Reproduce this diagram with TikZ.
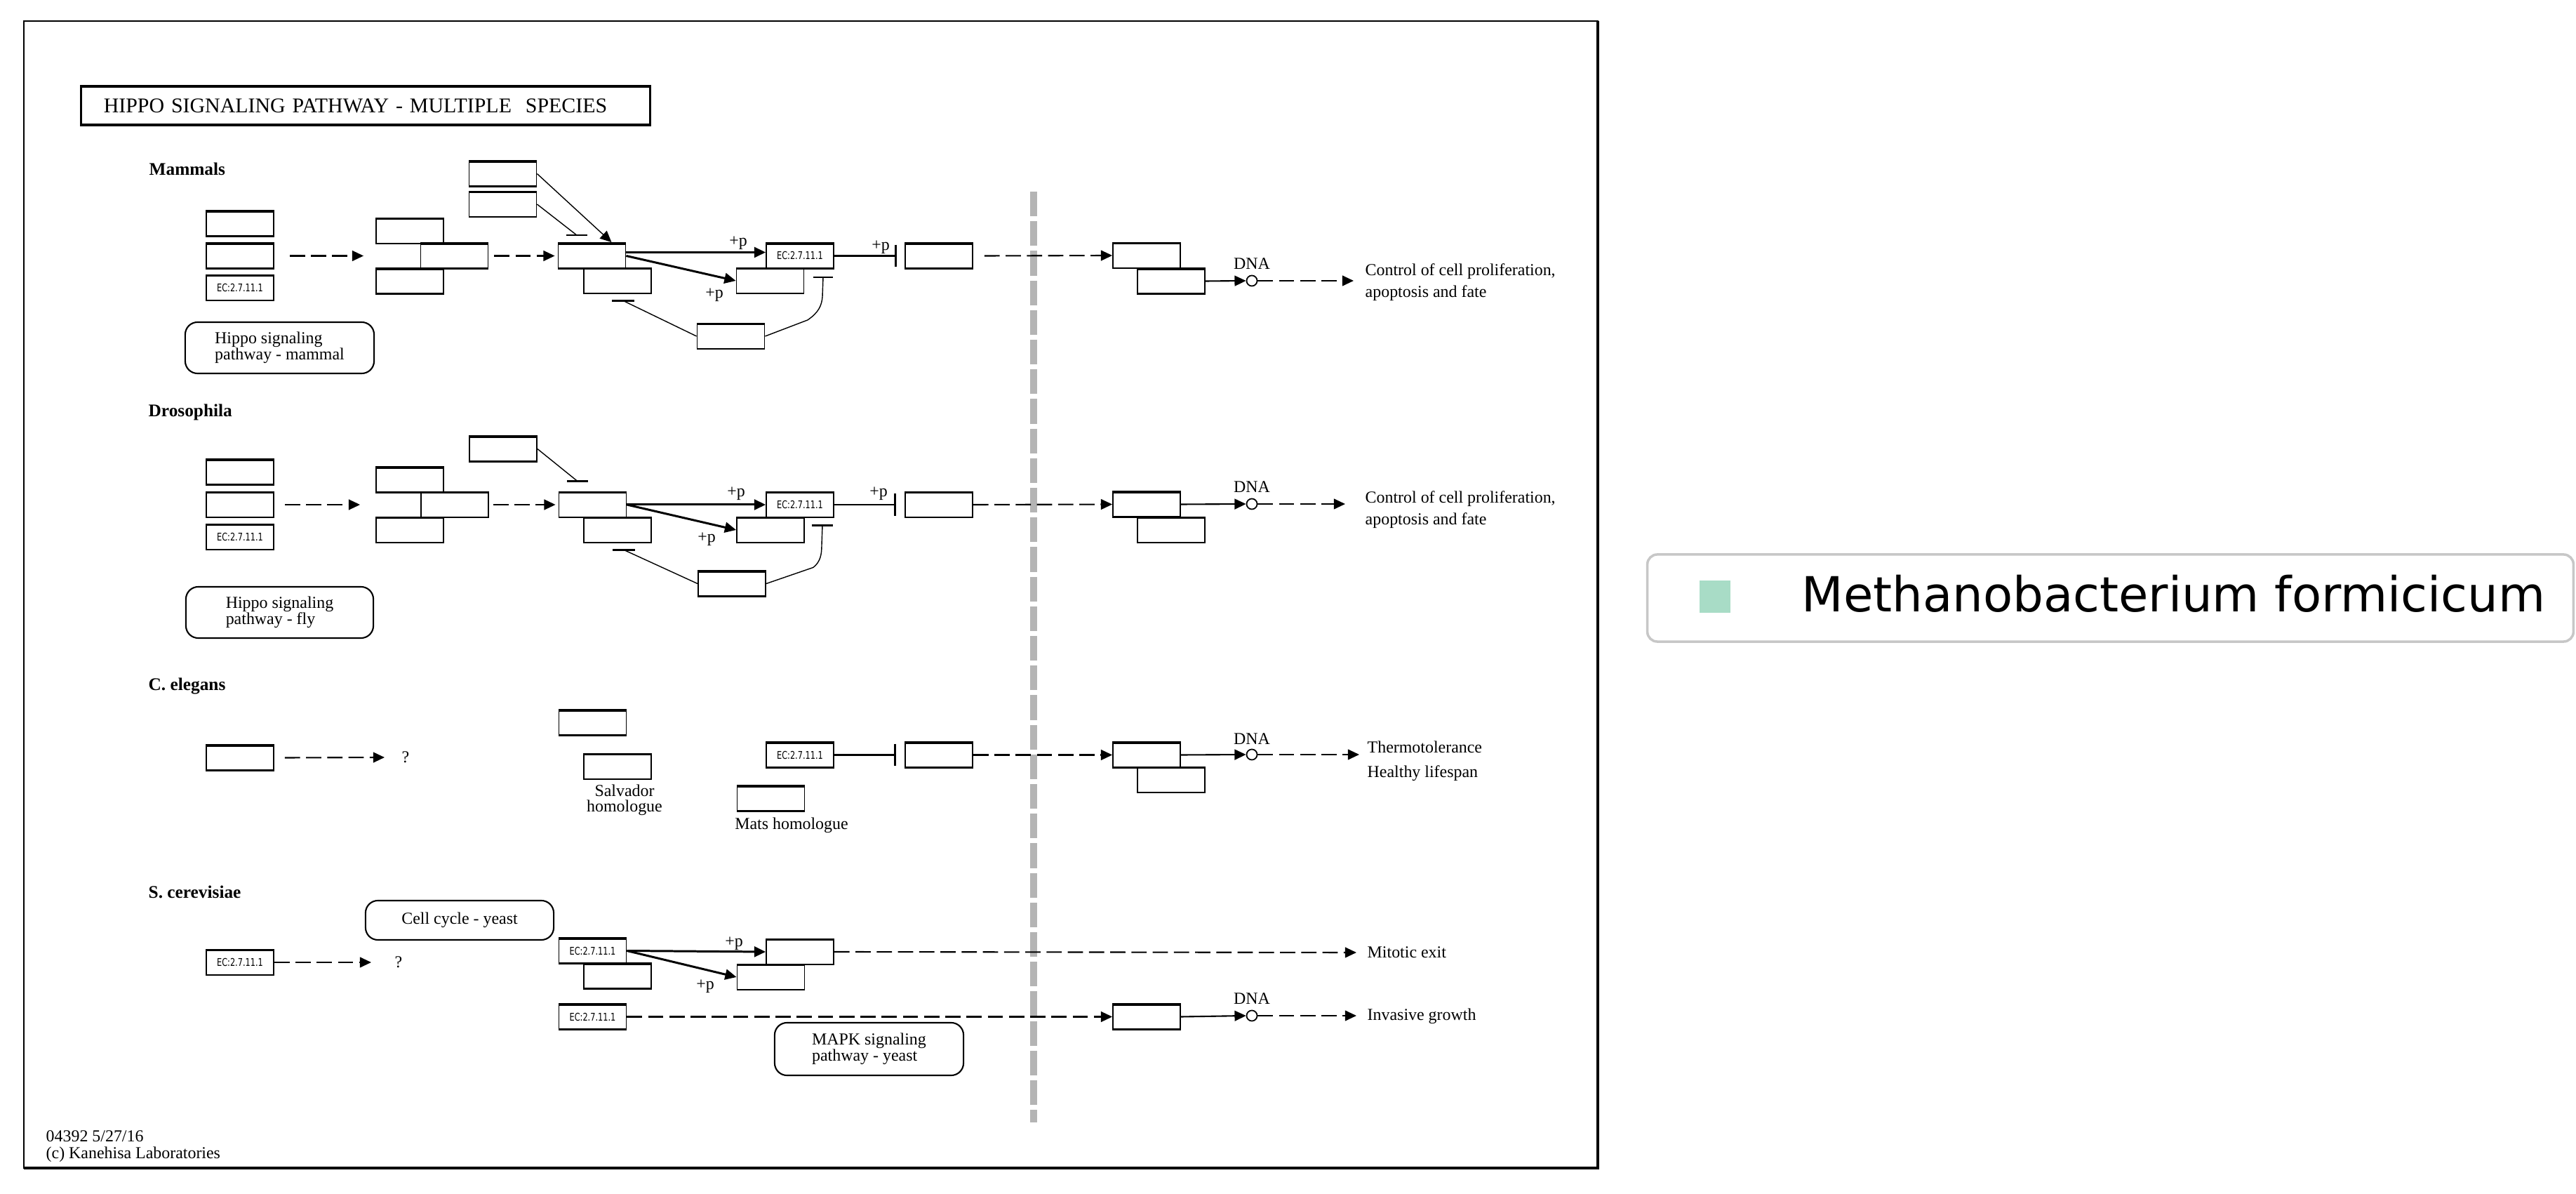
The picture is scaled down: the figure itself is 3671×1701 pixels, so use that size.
\documentclass[tikz,border=0pt]{standalone}
\usepackage{fontspec}
\setmainfont{Liberation Serif}
\newfontfamily\ecfam[FakeStretch=0.75]{DejaVu Sans}
\newfontfamily\legfam{DejaVu Sans}
\usetikzlibrary{arrows.meta,calc}
\definecolor{legmint}{RGB}{168,220,198}
\definecolor{dividergray}{RGB}{180,180,180}

\begin{document}
\begin{tikzpicture}[x=0.01cm,y=-0.01cm,
  gene/.style={draw, fill=white, line width=0.5pt, minimum width=0.96cm, minimum height=0.37cm, inner sep=0pt,
    path picture={\draw[line width=1.6pt] (path picture bounding box.north west) -- (path picture bounding box.north east);
                  \draw[line width=1.1pt] (path picture bounding box.south west) -- (path picture bounding box.south east);}},
  ecgene/.style={gene, font=\ecfam\fontsize{4.3}{5}\selectfont},
  lbl/.style={inner sep=0pt, font=\fontsize{6.8}{6.6}\selectfont},
  tip/.style={-{Triangle[length=4.6pt,width=4.2pt]}},
  actarrow/.style={line width=0.6pt, tip},
  boldarrow/.style={line width=0.85pt, tip},
  dasharrow/.style={line width=0.6pt, dash pattern=on 6.2pt off 2.4pt, tip},
  inhline/.style={line width=0.6pt, -{Bar[width=9pt,line width=0.8pt]}},
  thinline/.style={line width=0.4pt},
  barstroke/.style={line width=0.7pt},
  dnacirc/.style={circle, draw, fill=white, line width=0.5pt, minimum size=0.15cm, inner sep=0pt},
  pathbox/.style={draw, line width=0.6pt, rounded corners=5pt, align=left, inner sep=0pt, font=\fontsize{6.8}{6.5}\selectfont},
  species/.style={inner sep=0pt, anchor=west, font=\fontsize{7.2}{8}\selectfont\bfseries},
  outtext/.style={inner sep=0pt, anchor=west, align=left},
]
\useasboundingbox (0,0) rectangle (3671,1701);

% outer frame of the map
\draw[line width=0.6pt] (34,30) rectangle (2277,1664);
\draw[line width=1.1pt] (2277,30) -- (2277,1664) -- (34,1664);

% title
\node[draw, line width=0.9pt, text width=7.46cm, inner xsep=0.32cm, inner ysep=0pt, minimum height=0.55cm,
      align=left, font=\fontsize{8.5}{9}\selectfont] (title) at (521,150.5)
      {HIPPO SIGNALING PATHWAY - MULTIPLE\ \ SPECIES};

% nucleus divider
\draw[dividergray, line width=3.1pt, dash pattern=on 10pt off 2pt] (1473,273) -- (1473,1599);

% ---------------- Mammals ----------------
\node[species] (tMam) at (212,241) {Mammals};
\node[gene] (m1) at (342,318.5) {};
\node[gene] (m2) at (342,364.5) {};
\node[ecgene] (m3) at (342,410) {EC:2.7.11.1};
\node[gene] (mA) at (584,329) {};
\node[gene] (mC) at (584,400.5) {};
\node[gene] (mB) at (647.5,364.5) {};
\node[gene] (mF) at (716.5,247.5) {};
\node[gene] (mG) at (716.5,291) {};
\node[gene] (mD) at (843.5,364.5) {};
\node[gene] (mE) at (880,400) {};
\node[gene] (mI) at (1097.5,400) {};
\node[ecgene] (mH) at (1140,364.5) {EC:2.7.11.1};
\node[gene] (mJ) at (1041.5,479) {};
\node[gene] (mK) at (1338,364.5) {};
\node[gene] (mL) at (1634,364) {};
\node[gene] (mM) at (1669,400.5) {};
\node[dnacirc] (mN) at (1784,400) {};
\node[lbl] (mDNA) at (1784,376) {DNA};
\node[outtext, lbl] (mO) at (1945,402) {Control of cell proliferation,\\[2.2pt]apoptosis and fate};
\node[pathbox, minimum width=2.69cm, minimum height=0.73cm] (mP) at (398.5,495.5) {Hippo signaling\\pathway - mammal};

\coordinate (mGb) at ($(mD.north)+(-21.5,-10)$);
\coordinate (mJb1) at ($(mE.south)+(8,9)$);
\coordinate (mJb2) at ($(mH.south)+(33,11)$);

\draw[dasharrow] ($(m2.east)+(22,0)$) -- ($(mA.west |- m2.east)+(-17,0)$);
\draw[dasharrow] ($(mB.east)+(8,0)$) -- ($(mD.west)+(-4,0)$);
\draw[thinline, tip] (mF.east) -- ($(mD.north)+(28,0)$);
\draw[thinline] (mG.east) -- (mGb);
\draw[barstroke] ($(mGb)+(-15,0)$) -- ($(mGb)+(15,0)$);
\draw[boldarrow] ($(mD.east)+(0,-5)$) -- ($(mH.west)+(0,-5)$);
\node[lbl, anchor=base] at (1052,351) {+p};
\draw[boldarrow] (mD.east) -- (mI.west);
\node[lbl, anchor=base] at (1018,425) {+p};
\draw[thinline] (mJ.west) -- (mJb1);
\draw[barstroke] ($(mJb1)+(-16,0)$) -- ($(mJb1)+(16,0)$);
\draw[thinline] (mJ.east) -- ($(mJb2)+(-22,61)$) .. controls ($(mJb2)+(-6,50)$) and ($(mJb2)+(-2,40)$) .. ($(mJb2)+(-1,28)$) -- (mJb2);
\draw[barstroke] ($(mJb2)+(-14,0)$) -- ($(mJb2)+(14,0)$);
\draw[inhline] (mH.east) -- ($(mK.west)+(-11,0)$);
\node[lbl, anchor=base] at (1255,357) {+p};
\draw[dasharrow] ($(mK.east)+(16,0)$) -- (mL.west);
\draw[actarrow] (mM.east) -- (mN.west);
\draw[dasharrow] (mN.east) -- ($(mO.west |- mN.east)+(-16,0)$);

% ---------------- Drosophila ----------------
\node[species] (tDro) at (211,587) {Drosophila};
\node[gene] (d1) at (342,672.5) {};
\node[gene] (d2) at (342,719) {};
\node[ecgene] (d3) at (342,765) {EC:2.7.11.1};
\node[gene] (dA) at (584,683.5) {};
\node[gene] (dC) at (584,755) {};
\node[gene] (dB) at (648,719) {};
\node[gene] (dF) at (717,639.5) {};
\node[gene] (dD) at (844.5,719) {};
\node[gene] (dE) at (880,755) {};
\node[gene] (dI) at (1098,755) {};
\node[ecgene] (dH) at (1140,719) {EC:2.7.11.1};
\node[gene] (dJ) at (1043,831.5) {};
\node[gene] (dK) at (1338,719) {};
\node[gene] (dL) at (1634,718.5) {};
\node[gene] (dM) at (1669,755) {};
\node[dnacirc] (dN) at (1784,718) {};
\node[lbl] (dDNA) at (1784,694) {DNA};
\node[outtext, lbl] (dO) at (1945,726) {Control of cell proliferation,\\[2.2pt]apoptosis and fate};
\node[pathbox, minimum width=2.67cm, minimum height=0.73cm] (dP) at (398.5,872.5) {Hippo signaling\\pathway - fly};

\coordinate (dFb) at ($(dD.north)+(-21.5,-14)$);
\coordinate (dJb1) at ($(dE.south)+(9,9)$);
\coordinate (dJb2) at ($(dH.south)+(32,10)$);

\draw[dasharrow] ($(d2.east)+(15,0)$) -- ($(dA.west |- d2.east)+(-22,0)$);
\draw[dasharrow] ($(dB.east)+(6,0)$) -- ($(dD.west)+(-4,0)$);
\draw[thinline] (dF.east) -- (dFb);
\draw[barstroke] ($(dFb)+(-15,0)$) -- ($(dFb)+(15,0)$);
\draw[boldarrow] (dD.east) -- (dH.west);
\node[lbl, anchor=base] at (1049,708) {+p};
\draw[boldarrow] (dD.east) -- (dI.west);
\node[lbl, anchor=base] at (1007,773) {+p};
\draw[thinline] (dJ.west) -- (dJb1);
\draw[barstroke] ($(dJb1)+(-16,0)$) -- ($(dJb1)+(16,0)$);
\draw[thinline] (dJ.east) -- ($(dJb2)+(-13,60)$) .. controls ($(dJb2)+(-3,52)$) and ($(dJb2)+(-1,42)$) .. ($(dJb2)+(-1,28)$) -- (dJb2);
\draw[barstroke] ($(dJb2)+(-15,0)$) -- ($(dJb2)+(15,0)$);
\draw[inhline] (dH.east) -- ($(dK.west)+(-12,0)$);
\node[lbl, anchor=base] at (1252,708) {+p};
\draw[dasharrow] ($(dK.east)+(0,0)$) -- (dL.west);
\draw[actarrow] (dL.east) -- (dN.west);
\draw[dasharrow] (dN.east) -- ($(dO.west |- dN.east)+(-28,0)$);

% ---------------- C. elegans ----------------
\node[species] (tCel) at (211,978) {C. elegans};
\node[gene] (c1) at (342,1079.5) {};
\node[lbl] (cQ) at (578,1079) {?};
\node[gene] (cD) at (844.5,1029.5) {};
\node[gene] (cE) at (880,1092) {};
\node[lbl, align=center, font=\fontsize{6.8}{6.2}\selectfont] (cEt) at (890,1140) {Salvador\\homologue};
\node[ecgene] (cH) at (1140,1075.5) {EC:2.7.11.1};
\node[gene] (cI) at (1098.5,1137.5) {};
\node[lbl] (cIt) at (1128,1176) {Mats homologue};
\node[gene] (cK) at (1338,1075.5) {};
\node[gene] (cL) at (1634,1075.5) {};
\node[gene] (cM) at (1669,1111) {};
\node[dnacirc] (cN) at (1784,1075) {};
\node[lbl] (cDNA) at (1784,1053) {DNA};
\node[outtext, lbl] (cO) at (1948,1084) {Thermotolerance\\[3.4pt]Healthy lifespan};

\draw[dasharrow] ($(c1.east)+(15,0)$) -- ($(cQ.west)+(-24,0)$);
\draw[inhline] (cH.east) -- ($(cK.west)+(-12,0)$);
\draw[dasharrow] (cK.east) -- (cL.west);
\draw[actarrow] (cL.east) -- (cN.west);
\draw[dasharrow] (cN.east) -- ($(cO.west |- cN.east)+(-11,0)$);

% ---------------- S. cerevisiae ----------------
\node[species] (tSce) at (211,1271) {S. cerevisiae};
\node[pathbox, align=center, minimum width=2.68cm, minimum height=0.56cm] (sCC) at (655,1311) {Cell cycle - yeast};
\node[ecgene] (s1) at (342,1371) {EC:2.7.11.1};
\node[lbl] (sQ) at (568,1371) {?};
\node[ecgene] (sD) at (844.5,1354.5) {EC:2.7.11.1};
\node[gene] (sE) at (880,1390.5) {};
\node[gene] (sI) at (1098.5,1392) {};
\node[gene] (sH) at (1140,1356) {};
\node[ecgene] (sD2) at (844.5,1448.5) {EC:2.7.11.1};
\node[gene] (sL) at (1634,1448.5) {};
\node[dnacirc] (sN) at (1784,1447) {};
\node[lbl] (sDNA) at (1784,1423) {DNA};
\node[outtext, lbl] (sO1) at (1948,1357) {Mitotic exit};
\node[outtext, lbl] (sO2) at (1948,1448) {Invasive growth};
\node[pathbox, minimum width=2.69cm, minimum height=0.75cm] (sMP) at (1238.5,1494.5) {MAPK signaling\\pathway - yeast};

\draw[dasharrow] (s1.east) -- ($(sQ.west)+(-33,0)$);
\draw[boldarrow] (sD.east) -- (sH.west);
\node[lbl, anchor=base] at (1046,1349) {+p};
\draw[boldarrow] (sD.east) -- (sI.west);
\node[lbl, anchor=base] at (1005,1410) {+p};
\draw[dasharrow] (sH.east) -- ($(sO1.west)+(-15,0)$);
\draw[dasharrow] (sD2.east) -- (sL.west);
\draw[actarrow] (sL.east) -- (sN.west);
\draw[dasharrow] (sN.east) -- ($(sO2.west |- sN.east)+(-15,0)$);

% footer
\node[outtext, lbl, font=\fontsize{6.8}{6.8}\selectfont] (foot) at (65,1633) {04392 5/27/16\\(c) Kanehisa Laboratories};

% ---------------- organism legend ----------------
\node[draw=black!22, line width=1pt, rounded corners=4pt, fill=white,
      minimum width=13.19cm, minimum height=1.24cm, inner sep=0pt] (leg) at (3007.5,852) {};
\node[fill=legmint, minimum width=0.44cm, minimum height=0.46cm, inner sep=0pt] (legsw) at (2444,850) {};
\node[anchor=base west, inner sep=0pt, font=\legfam\fontsize{19.6}{22}\selectfont] (legtxt) at (2567,872) {Methanobacterium formicicum};
\end{tikzpicture}
\end{document}
